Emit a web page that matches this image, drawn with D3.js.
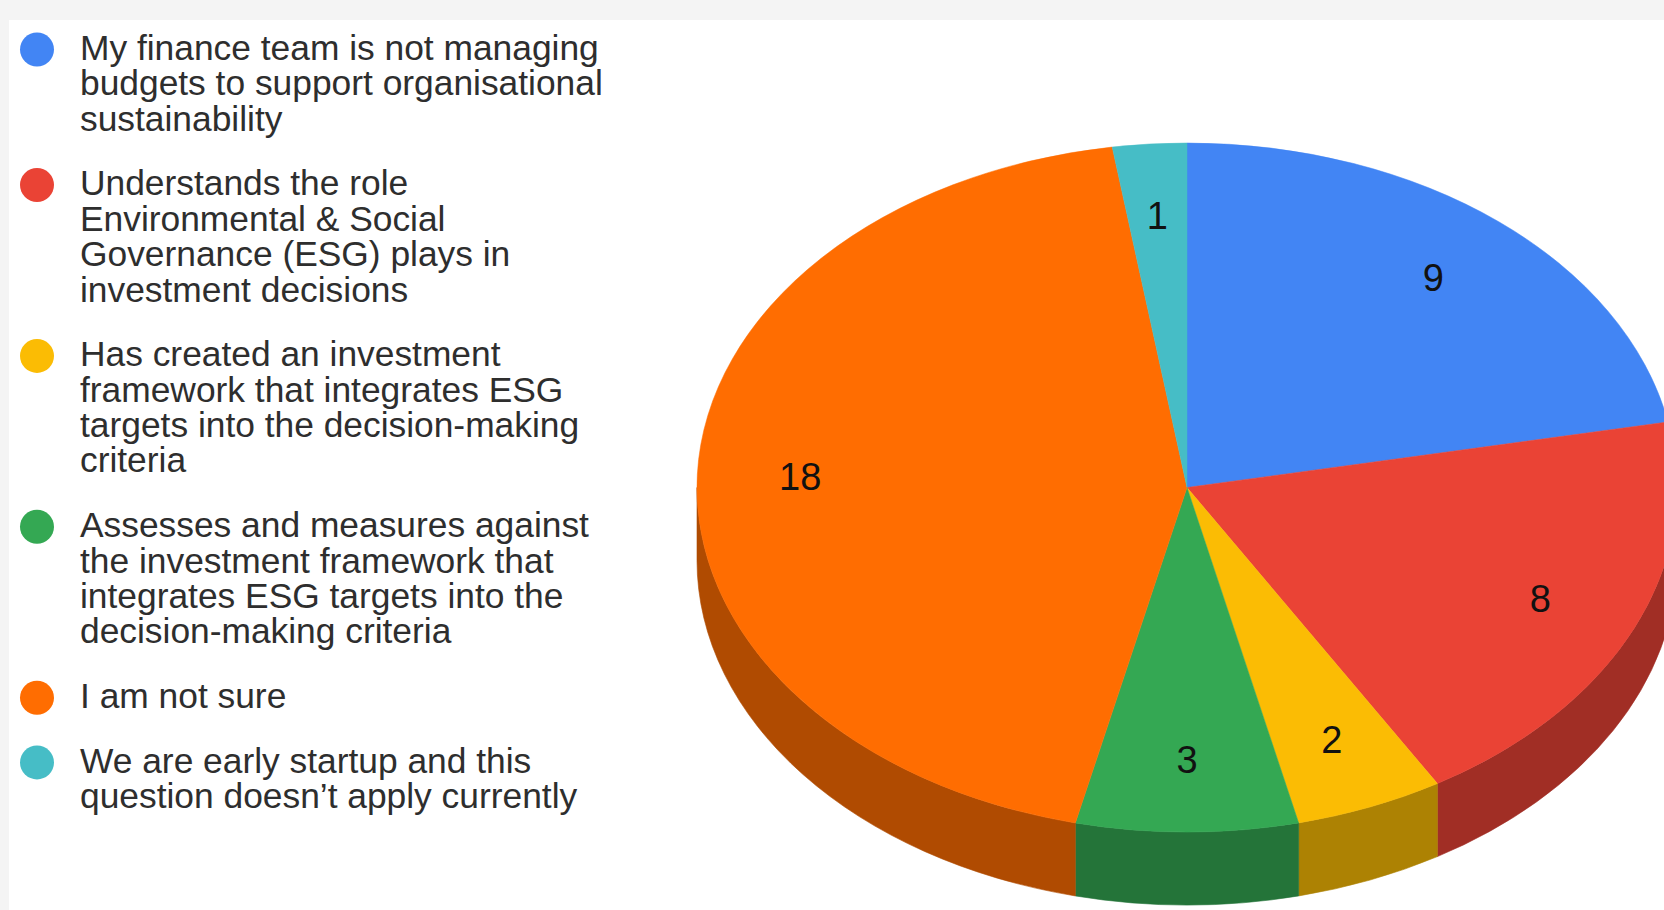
<!DOCTYPE html>
<html>
<head>
<meta charset="utf-8">
<script src="https://cdn.jsdelivr.net/npm/d3@7/dist/d3.min.js"></script>
<style>
  html, body { margin: 0; padding: 0; background: #f4f4f4; }
  svg { display: block; }
  text { font-family: "Liberation Sans", Arial, sans-serif; }
</style>
</head>
<body>
<svg id="chart" width="1664" height="910"></svg>
<script>
// Survey answers (legend labels, wrapped as displayed) and response counts
const categories = [
  "My finance team is not managing\nbudgets to support organisational\nsustainability",
  "Understands the role\nEnvironmental & Social\nGovernance (ESG) plays in\ninvestment decisions",
  "Has created an investment\nframework that integrates ESG\ntargets into the decision-making\ncriteria",
  "Assesses and measures against\nthe investment framework that\nintegrates ESG targets into the\ndecision-making criteria",
  "I am not sure",
  "We are early startup and this\nquestion doesn’t apply currently"
];
const values = [9, 8, 2, 3, 18, 1];
const colors = ["#4285f4", "#ea4335", "#fbbc04", "#34a853", "#ff6d01", "#46bdc6"];

const W = 1664, H = 910;
const svg = d3.select("#chart");

// white chart panel
svg.append("rect").attr("x", 9).attr("y", 20).attr("width", W - 9).attr("height", H - 20).attr("fill", "#ffffff");

// ---------- 3D pie ----------
const cx = 1187, cy = 487.5, rx = 490, ry = 344.5, depth = 73;
const k = ry / rx;

const pie = d3.pie().sort(null).value(d => d).startAngle(0).endAngle(2 * Math.PI);
const arcs = pie(values);

// side walls use a darker shade of the slice colour
const darken = c => { const r = d3.rgb(c); return d3.rgb(r.r * 0.69, r.g * 0.69, r.b * 0.69).formatHex(); };

const px = a => cx + rx * Math.sin(a);
const py = a => cy - ry * Math.cos(a);

// side walls: front half of the ellipse (angles between PI/2 and 3PI/2)
const sideG = svg.append("g");
arcs.forEach((d, i) => {
  const a0 = Math.max(d.startAngle, Math.PI / 2);
  const a1 = Math.min(d.endAngle, 3 * Math.PI / 2);
  if (a1 <= a0) return;
  const p = `M${px(a0)},${py(a0)}` +
    `A${rx},${ry} 0 0 1 ${px(a1)},${py(a1)}` +
    `L${px(a1)},${py(a1) + depth}` +
    `A${rx},${ry} 0 0 0 ${px(a0)},${py(a0) + depth}Z`;
  sideG.append("path").attr("d", p).attr("fill", darken(colors[i]))
    .attr("stroke", darken(colors[i])).attr("stroke-width", 0.6);
});

// top surface: circular arcs squashed vertically into an ellipse
const arc = d3.arc().innerRadius(0).outerRadius(rx);
const topG = svg.append("g").attr("transform", `translate(${cx},${cy}) scale(1,${k})`);
topG.selectAll("path").data(arcs).join("path")
  .attr("d", arc)
  .attr("fill", (d, i) => colors[i])
  .attr("stroke", (d, i) => colors[i]).attr("stroke-width", 0.6);

// slice value labels
const labelArc = d3.arc().innerRadius(rx * 0.79).outerRadius(rx * 0.79);
svg.append("g").selectAll("text").data(arcs).join("text")
  .attr("x", d => cx + labelArc.centroid(d)[0])
  .attr("y", d => cy + labelArc.centroid(d)[1] * k)
  .attr("text-anchor", "middle")
  .attr("dominant-baseline", "central")
  .attr("font-size", 38)
  .attr("fill", "#111")
  .text(d => d.data);

// ---------- legend ----------
const lineH = 35.4, itemGap = 29.3, top0 = 48.5;
const legend = svg.append("g");
let y = top0;
categories.forEach((label, i) => {
  const lines = label.split("\n");
  legend.append("circle").attr("cx", 37).attr("cy", y + 1).attr("r", 17).attr("fill", colors[i]);
  const t = legend.append("text")
    .attr("transform", "translate(80,0) scale(1.025,1)")
    .attr("x", 0).attr("y", y).attr("font-size", 34.5).attr("fill", "#2e2e2e");
  lines.forEach((ln, j) => {
    t.append("tspan").attr("x", 0).attr("y", y + j * lineH).attr("dy", "0.33em").text(ln);
  });
  y += lines.length * lineH + itemGap;
});
</script>
</body>
</html>
